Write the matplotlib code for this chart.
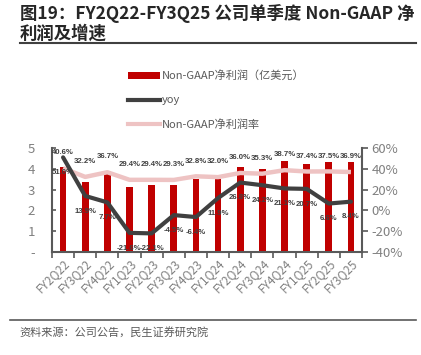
import matplotlib
matplotlib.use("Agg")
import matplotlib.pyplot as plt
from matplotlib.lines import Line2D
from matplotlib.patches import Patch
import numpy as np

plt.rcParams['font.family'] = ['Noto Sans CJK SC', 'DejaVu Sans']

categories = ["FY2Q22", "FY3Q22", "FY4Q22", "FY1Q23", "FY2Q23", "FY3Q23", "FY4Q23",
              "FY1Q24", "FY2Q24", "FY3Q24", "FY4Q24", "FY1Q25", "FY2Q25", "FY3Q25"]
net_profit = [4.09, 3.38, 3.89, 3.14, 3.22, 3.22, 3.51, 3.50, 4.07, 3.97, 4.39, 4.23, 4.33, 4.33]
yoy = [51.0, 13.9, 7.7, -21.6, -22.1, -4.5, -6.4, 11.9, 26.8, 24.2, 21.1, 20.7, 6.6, 8.4]
margin = [40.6, 32.2, 36.7, 29.4, 29.4, 29.3, 32.8, 32.0, 36.0, 35.3, 38.7, 37.4, 37.5, 36.9]
left_ticks = [0, 1, 2, 3, 4, 5]
left_ticklabels = ["-", "1", "2", "3", "4", "5"]
right_ticks = [-40, -20, 0, 20, 40, 60]

title = "图19：FY2Q22-FY3Q25 公司单季度 Non-GAAP 净\n利润及增速"
source = "资料来源：公司公告，民生证券研究院"
leg_labels = ["Non-GAAP净利润（亿美元）", "yoy", "Non-GAAP净利润率"]

W, H = 421, 355
fig = plt.figure(figsize=(W / 100, H / 100), dpi=100)

BAR = "#C00000"
YOY = "#404040"
MAR = "#EEC3C3"
AX = "#595959"
TXT = "#404040"

ax = fig.add_axes([52 / W, 1 - 252 / H, (362 - 52) / W, (252 - 148) / H])
x = np.arange(len(categories))
ax.bar(x, net_profit, width=0.3, color=BAR, zorder=2)
ax.set_xlim(-0.5, len(categories) - 0.5)
ax.set_ylim(0, 5)
ax.set_yticks(left_ticks)
ax.set_yticklabels(left_ticklabels)
ax.set_xticks(x)
ax.set_xticklabels(categories, rotation=45, ha="right", rotation_mode="anchor")
ax.set_xticks(np.arange(len(categories) + 1) - 0.5, minor=True)
ax.tick_params(axis="x", which="major", length=0, pad=3, labelsize=8.5, colors="#808080")
ax.tick_params(axis="x", which="minor", length=4, width=1.2, color=AX, direction="out")
ax.tick_params(axis="y", length=3, width=1.2, color=AX, direction="in",
               labelsize=9.5, labelcolor="#808080", pad=12)
ax.spines["top"].set_visible(False)
ax.spines["right"].set_visible(False)
for s in ["left", "bottom"]:
    ax.spines[s].set_color(AX)
    ax.spines[s].set_linewidth(1.5)

ax2 = ax.twinx()
ax2.set_ylim(-40, 60)
ax2.set_yticks(right_ticks)
ax2.set_yticklabels([f"{v}%" for v in right_ticks])
ax2.tick_params(axis="y", length=4, width=1.2, color=AX, labelsize=9.5, labelcolor="#808080", pad=3)
for s in ["top", "left", "bottom"]:
    ax2.spines[s].set_visible(False)
ax2.spines["right"].set_color(AX)
ax2.spines["right"].set_linewidth(1.5)

ax2.plot(x, margin, color=MAR, lw=3.2, solid_capstyle="butt", zorder=3)
ax2.plot(x, yoy, color=YOY, lw=3, solid_capstyle="round", zorder=4)

for xi, m in zip(x, margin):
    ax2.annotate(f"{m:.1f}%", (xi, m), xytext=(0, 11), textcoords="offset points",
                 ha="center", va="center", fontsize=5.6, color=TXT, fontweight="bold",
                 family=["Liberation Sans"])
for xi, y in zip(x, yoy):
    ax2.annotate(f"{y:.1f}%", (xi, y), xytext=(0, -11), textcoords="offset points",
                 ha="center", va="center", fontsize=5.6, color=TXT, fontweight="bold",
                 family=["Liberation Sans"])

handles = [Patch(facecolor=BAR, edgecolor="none"),
           Line2D([], [], color=YOY, lw=3),
           Line2D([], [], color=MAR, lw=3)]
fig.legend(handles, leg_labels, loc="upper left", bbox_to_anchor=(124 / W, 1 - 66 / H),
           frameon=False, fontsize=8, labelcolor="#595959", handlelength=2.8,
           handleheight=0.5, handletextpad=0.2, labelspacing=1.25, borderaxespad=0)

fig.text(20 / W, 1 - 4 / H, title, ha="left", va="top", fontsize=12.5, fontweight="bold",
         color="#262626", linespacing=1.1)
fig.add_artist(Line2D([20 / W, 416 / W], [1 - 43 / H, 1 - 43 / H], color="#404040", lw=1.5))
fig.add_artist(Line2D([10 / W, 416 / W], [1 - 320 / H, 1 - 320 / H], color="#595959", lw=1.2))
fig.text(19 / W, 1 - 332 / H, source, ha="left", va="center", fontsize=8, color="#595959")

fig.savefig("out.png", dpi=100)
